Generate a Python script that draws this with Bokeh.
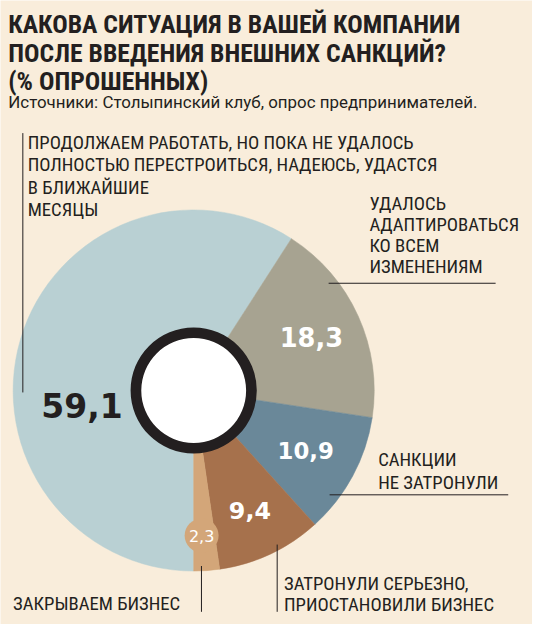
import math
from bokeh.plotting import figure
from bokeh.models import Range1d, ColumnDataSource
from bokeh.core.properties import value
from bokeh.embed import file_html
from bokeh.resources import INLINE

# ---- data ----
categories = [
    "ПРОДОЛЖАЕМ РАБОТАТЬ, НО ПОКА НЕ УДАЛОСЬ ПОЛНОСТЬЮ ПЕРЕСТРОИТЬСЯ, НАДЕЮСЬ, УДАСТСЯ В БЛИЖАЙШИЕ МЕСЯЦЫ",
    "УДАЛОСЬ АДАПТИРОВАТЬСЯ КО ВСЕМ ИЗМЕНЕНИЯМ",
    "САНКЦИИ НЕ ЗАТРОНУЛИ",
    "ЗАТРОНУЛИ СЕРЬЕЗНО, ПРИОСТАНОВИЛИ БИЗНЕС",
    "ЗАКРЫВАЕМ БИЗНЕС",
]
values = [59.1, 18.3, 10.9, 9.4, 2.3]
value_labels = ["59,1", "18,3", "10,9", "9,4", "2,3"]
colors = ["#b9d0d3", "#a7a391", "#6a8899", "#a6714c", "#d3a679"]

title_lines = ["КАКОВА СИТУАЦИЯ В ВАШЕЙ КОМПАНИИ",
               "ПОСЛЕ ВВЕДЕНИЯ ВНЕШНИХ САНКЦИЙ?",
               "(% ОПРОШЕННЫХ)"]
subtitle = "Источники: Столыпинский клуб, опрос предпринимателей."

BG = "#f9eddb"
DARK = "#231f20"
W, H = 532, 624          # figure size in pixels
RW, RH = 548, 640        # design space
S = W / RW               # pixel scale

def Y(py):
    return RH - py

def fs(px):
    return f"{px * S:.1f}px"

p = figure(width=W, height=H, output_backend="svg", toolbar_location=None,
           x_range=Range1d(0, RW), y_range=Range1d(0, RH),
           min_border=0, background_fill_color=BG, border_fill_color=BG)
p.axis.visible = False
p.grid.visible = False
p.outline_line_color = None

CX, CY, R = 199, Y(400), 186

# wedges: clockwise, starting at the bottom
total = sum(values)
starts, ends, mids = [], [], []
cum = 0.0
for v in values:
    th0 = 180 + 360 * cum / total
    cum += v
    th1 = 180 + 360 * cum / total
    starts.append(math.radians(90 - th1))
    ends.append(math.radians(90 - th0))
    mids.append((th0 + th1) / 2)

def polar(r, theta_deg):
    t = math.radians(theta_deg)
    return CX + r * math.sin(t), CY + r * math.cos(t)

src = ColumnDataSource(dict(x=[CX] * 5, y=[CY] * 5, s=starts, e=ends, c=colors))
p.wedge(x="x", y="y", radius=R, start_angle="s", end_angle="e", direction="anticlock",
        fill_color="c", line_color="c", line_width=0.5, source=src)

# small circle holding the 2,3 label
sx, sy = polar(149, mids[4] + 1)
p.circle(x=[sx], y=[sy], radius=17.5, fill_color=colors[4], line_color=None)

# centre ring
p.annulus(x=[CX], y=[CY], inner_radius=53, outer_radius=65, fill_color=DARK, line_color=None)
p.circle(x=[CX], y=[CY], radius=54, fill_color="white", line_color=None)

# value labels
num_font = value("DejaVu Sans")
lab_r = [None, 133, 131, 136]
lab_size = [None, 26.5, 23.5, 24.5]
for i in (1, 2, 3):
    lx, ly = polar(lab_r[i], mids[i])
    p.text(x=[lx], y=[ly], text=[value_labels[i]],
           text_font=num_font, text_font_style="bold", text_font_size=fs(lab_size[i]),
           text_color="white", text_align="center", text_baseline="middle")
p.text(x=[84], y=[Y(415)], text=[value_labels[0]], text_font=num_font, text_font_style="bold",
       text_font_size=fs(34), text_color=DARK, text_align="center", text_baseline="middle")
p.text(x=[sx], y=[sy], text=[value_labels[4]],
       text_font=num_font, text_font_size=fs(16.5), text_color="white",
       text_align="center", text_baseline="middle")

# title and source
tfont = value("Roboto Condensed")
for line, c in zip(title_lines, [24, 54, 83]):
    p.text(x=[8], y=[Y(c)], text=[line], text_font=tfont, text_font_style="bold",
           text_font_size=fs(26.5), text_color=DARK, text_baseline="middle")
p.text(x=[8], y=[Y(104)], text=[subtitle], text_font=value("Roboto"), text_font_size=fs(17.4),
       text_color=DARK, text_baseline="middle")

def label(lines, x, centers, size=19.3):
    for ln, c in zip(lines, centers):
        p.text(x=[x], y=[Y(c)], text=[ln], text_font=tfont, text_font_size=fs(size),
               text_color=DARK, text_baseline="middle")

label(["ПРОДОЛЖАЕМ РАБОТАТЬ, НО ПОКА НЕ УДАЛОСЬ",
       "ПОЛНОСТЬЮ ПЕРЕСТРОИТЬСЯ, НАДЕЮСЬ, УДАСТСЯ",
       "В БЛИЖАЙШИЕ", "МЕСЯЦЫ"], 28, [146, 169, 192, 215])
label(["УДАЛОСЬ", "АДАПТИРОВАТЬСЯ", "КО ВСЕМ", "ИЗМЕНЕНИЯМ"], 380, [208.5, 230.5, 251.5, 273.5])
label(["САНКЦИИ", "НЕ ЗАТРОНУЛИ"], 389, [471.5, 494.5])
label(["ЗАТРОНУЛИ СЕРЬЕЗНО,", "ПРИОСТАНОВИЛИ БИЗНЕС"], 292, [598.5, 620.5])
label(["ЗАКРЫВАЕМ БИЗНЕС"], 13, [618.5])

# leader lines
p.segment(x0=[23, 338, 339, 285, 207], y0=[Y(136), Y(290), Y(507), Y(558), Y(580)],
          x1=[23, 510, 523, 285, 207], y1=[Y(402), Y(290), Y(507), Y(627), Y(627)],
          line_color=DARK, line_width=1)

open("out.html", "w").write(file_html(p, INLINE))
